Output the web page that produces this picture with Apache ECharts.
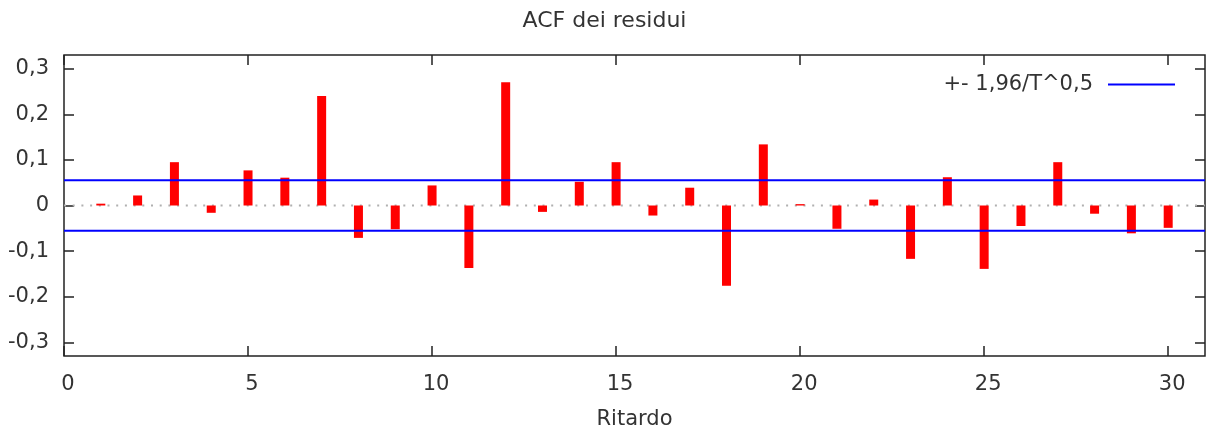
<!DOCTYPE html>
<html>
<head>
<meta charset="utf-8">
<script src="https://cdn.jsdelivr.net/npm/echarts@6/dist/echarts.min.js"></script>
<style>
  html, body { margin: 0; padding: 0; background: #fff; }
  #chart { width: 1209px; height: 432px; }
</style>
</head>
<body>
<div id="chart"></div>
<script>
// Residual autocorrelation by lag
const lags = [1,2,3,4,5,6,7,8,9,10,11,12,13,14,15,16,17,18,19,20,21,22,23,24,25,26,27,28,29,30];
const acf = [0.004, 0.022, 0.095, -0.016, 0.077, 0.061, 0.240, -0.071, -0.052, 0.044,
             -0.137, 0.270, -0.014, 0.052, 0.095, -0.022, 0.039, -0.176, 0.134, 0.003,
             -0.051, 0.013, -0.117, 0.062, -0.139, -0.045, 0.095, -0.018, -0.061, -0.049];
// Confidence band +- 1.96/sqrt(T)
const band = 0.0553;
const xTicks = [0, 5, 10, 15, 20, 25, 30];
const yTicks = [-0.3, -0.2, -0.1, 0, 0.1, 0.2, 0.3];
const xRange = [0, 31];
const yRange = [-0.33, 0.33];

const FONT = 'DejaVu Sans';
const FS = 21;
const TEXT = '#333';

const fmtY = v => (Math.abs(v) < 1e-9 ? '0' : v.toFixed(1).replace('.', ','));
const fmtX = v => String(Math.round(v));

const chart = echarts.init(document.getElementById('chart'));

const tickStyle = { color: '#222', width: 1.5 };
const baseX = {
  type: 'value', min: xRange[0], max: xRange[1],
  axisLine: { show: false, onZero: false },
  splitLine: { show: false },
  axisTick: { inside: true, length: 10, lineStyle: tickStyle, customValues: xTicks }
};
const baseY = {
  type: 'value', min: yRange[0], max: yRange[1],
  axisLine: { show: false, onZero: false },
  splitLine: { show: false },
  axisTick: { inside: true, length: 10, lineStyle: tickStyle, customValues: yTicks }
};

chart.setOption({
  animation: false,
  backgroundColor: '#fff',
  title: {
    text: 'ACF dei residui',
    left: 'center', top: 5,
    padding: [5, 0, 5, 58],
    textStyle: { fontFamily: FONT, fontSize: 22, fontWeight: 'normal', color: TEXT }
  },
  legend: {
    data: ['+- 1,96/T^0,5'],
    right: 29, top: 69,
    align: 'right',
    icon: 'rect',
    itemWidth: 67, itemHeight: 2,
    textStyle: { fontFamily: FONT, fontSize: FS, color: TEXT, padding: [0, 10, 0, 0] }
  },
  grid: {
    left: 64, right: 4, top: 55, bottom: 76,
    outerBoundsMode: 'none',
    containLabel: false,
    show: true, borderColor: '#222', borderWidth: 1.5, backgroundColor: 'transparent'
  },
  xAxis: [
    Object.assign({}, baseX, {
      position: 'bottom',
      name: 'Ritardo', nameLocation: 'middle', nameGap: 53,
      nameMoveOverlap: false,
      nameTextStyle: { fontFamily: FONT, fontSize: FS, color: TEXT },
      axisLabel: {
        customValues: xTicks, margin: 18, formatter: fmtX,
        fontFamily: FONT, fontSize: FS, color: TEXT, padding: [0, 0, 0, 8]
      }
    }),
    Object.assign({}, baseX, { position: 'top', axisLabel: { show: false } })
  ],
  yAxis: [
    Object.assign({}, baseY, {
      position: 'left',
      axisLabel: {
        customValues: yTicks, margin: 15, formatter: fmtY,
        fontFamily: FONT, fontSize: FS, color: TEXT
      }
    }),
    Object.assign({}, baseY, { position: 'right', axisLabel: { show: false } })
  ],
  series: [
    {
      name: 'zero', type: 'line', z: 1, symbol: 'none', silent: true,
      data: [[xRange[0], 0], [xRange[1], 0]],
      lineStyle: { color: '#b0b0b0', width: 2, type: [2, 6.7] }
    },
    {
      name: 'ACF', type: 'bar', z: 2, barWidth: 9,
      data: lags.map((l, i) => [l, acf[i]]),
      itemStyle: { color: '#ff0000' }
    },
    {
      name: '+- 1,96/T^0,5', type: 'line', z: 3, symbol: 'none', silent: true,
      data: [[xRange[0], band], [xRange[1], band]],
      lineStyle: { color: '#0000ff', width: 2 }, itemStyle: { color: '#0000ff' }
    },
    {
      name: '+- 1,96/T^0,5', type: 'line', z: 3, symbol: 'none', silent: true,
      data: [[xRange[0], -band], [xRange[1], -band]],
      lineStyle: { color: '#0000ff', width: 2 }, itemStyle: { color: '#0000ff' }
    }
  ]
});
</script>
</body>
</html>
